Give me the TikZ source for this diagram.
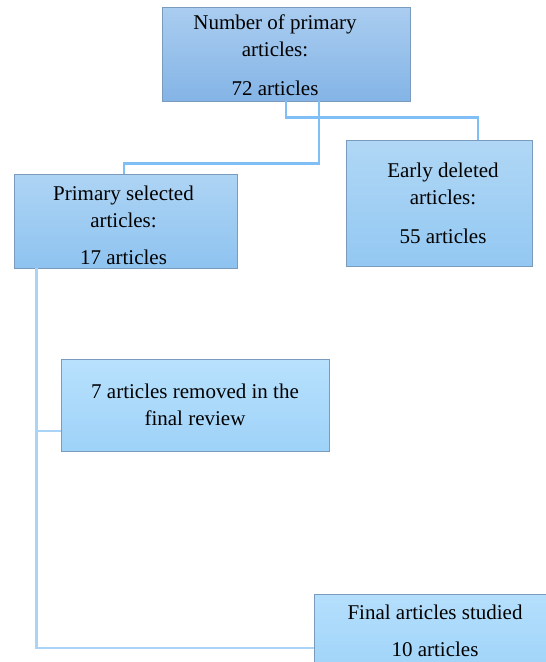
\documentclass[tikz,border=0pt]{standalone}
\usepackage{fontspec}
\setmainfont{Liberation Serif}
\usetikzlibrary{positioning}

\definecolor{boxline}{HTML}{7B9BBD}
\definecolor{linkdark}{HTML}{80BEF6}
\definecolor{linklight}{HTML}{A9D3F7}

\tikzset{
  box/.style={draw=boxline, line width=0.8pt, inner sep=0pt},
  caption/.style={align=center, inner sep=0pt, font=\fontsize{21}{27}\selectfont},
  link/.style={line width=2.5pt, color=linkdark},
  linklow/.style={line width=2.5pt, color=linklight}
}

\begin{document}
\begin{tikzpicture}[x=1pt,y=-1pt]
  \useasboundingbox (0,0) rectangle (546,662);
  \clip (0,0) rectangle (546,662);

  \node [box, top color={rgb,255:red,170;green,205;blue,240}, bottom color={rgb,255:red,132;green,180;blue,230}, minimum width=248pt, minimum height=94pt] (number) at (286,54) {};
  \node [box, top color={rgb,255:red,174;green,212;blue,244}, bottom color={rgb,255:red,142;green,195;blue,240}, minimum width=223pt, minimum height=94pt] (primary) at (125.5,221) {};
  \node [box, top color={rgb,255:red,176;green,215;blue,245}, bottom color={rgb,255:red,147;green,200;blue,242}, minimum width=186pt, minimum height=126pt] (early) at (439,203) {};
  \node [box, top color={rgb,255:red,184;green,225;blue,253}, bottom color={rgb,255:red,158;green,210;blue,248}, minimum width=268pt, minimum height=92pt] (removed) at (195,405) {};
  \node [box, top color={rgb,255:red,181;green,223;blue,252}, bottom color={rgb,255:red,160;green,212;blue,249}, minimum width=246pt, minimum height=73pt] (final) at (437,630.5) {};

  \node [caption] (number-text) at ([xshift=-11pt,yshift=-1.5pt]number.center) {Number of primary\\articles:\\[12pt]72 articles};
  \node [caption] (primary-text) at ([xshift=-2pt,yshift=-4.5pt]primary.center) {Primary selected\\articles:\\[10pt]17 articles};
  \node [caption] (early-text) at ([xshift=4pt]early.center) {Early deleted\\articles:\\[12pt]55 articles};
  \node [caption] (removed-text) at (removed.center) {7 articles removed in the\\final review};
  \node [caption] (final-text) at ([xshift=-2pt]final.center) {Final articles studied\\[10pt]10 articles};

  % upper branches
  \draw [link] (number.south) -- ++(0,16) -| ([xshift=39pt]early.north);
  \draw [link] ([xshift=33pt]number.south) -- ++(0,62) -| ([xshift=-1.5pt]primary.north);

  % lower trunk
  \coordinate (trunk) at ([xshift=23pt]primary.south west);
  \coordinate (branch) at ([yshift=-26pt]removed.west);
  \draw [linklow] (trunk) |- ([yshift=-17.5pt]final.west);
  \draw [linklow] (branch) -- (branch -| trunk);
\end{tikzpicture}
\end{document}
